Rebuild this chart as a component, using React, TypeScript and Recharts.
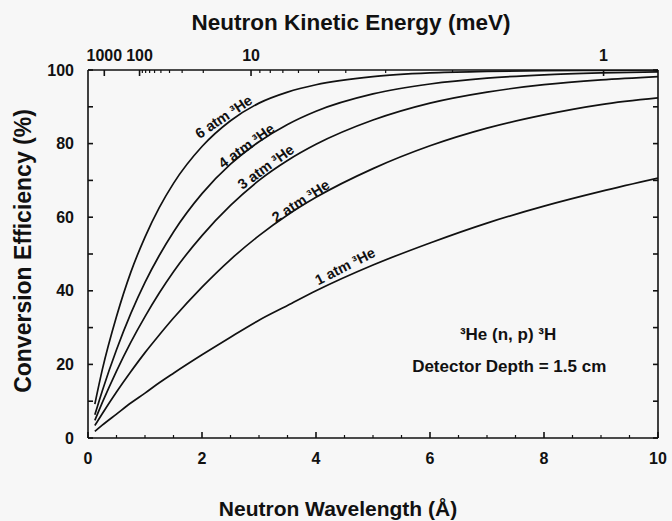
import { LineChart, Line, XAxis, YAxis, ReferenceDot } from 'recharts';

const FONT = '"Liberation Sans", Arial, Helvetica, sans-serif';
const INK = '#111111';

// neutron wavelength (Å)
const wavelength = [0.12, 0.25, 0.5, 0.75, 1, 1.25, 1.5, 2, 2.5, 3, 3.5, 4, 5, 6, 7, 8, 9, 10];

// conversion efficiency (%)
const eff6atm = [9.2, 18.5, 33, 45, 54.6, 62.6, 69.2, 79.2, 86.2, 91, 94, 96, 98.2, 99.2, 99.6, 99.8, 99.9, 100];
const eff4atm = [6.3, 12.8, 24, 33.8, 42.3, 49.6, 56, 66.4, 74.4, 80.5, 85.2, 88.8, 93.5, 96.2, 97.8, 98.7, 99.2, 99.5];
const eff3atm = [4.8, 9.6, 18.2, 26, 33, 39.4, 45.2, 55, 63.2, 70, 75.4, 79.8, 86.4, 91, 94, 96, 97.3, 98.2];
const eff2atm = [3.4, 6.6, 12.5, 18, 23.2, 28, 32.6, 41, 48.5, 55, 60.6, 65.4, 73.2, 79.4, 84.2, 87.8, 90.6, 92.4];
const eff1atm = [1.8, 3.5, 6.5, 9.5, 12.2, 15, 17.6, 22.6, 27.4, 32, 36, 40, 47, 53, 58.4, 63, 67, 70.6];

const wavelengthTicks = [0, 2, 4, 6, 8, 10];
const wavelengthMinor = [0.5, 1, 1.5, 2.5, 3, 3.5, 4.5, 5, 5.5, 6.5, 7, 7.5, 8.5, 9, 9.5];
const efficiencyTicks = [0, 10, 20, 30, 40, 50, 60, 70, 80, 90, 100];
const energyTicks = [1000, 100, 10, 1];
const energyMinor = [90, 80, 70, 60, 50, 40, 30, 20, 9, 8, 7, 6, 5, 4, 3, 2];

const curveLabels = [
  { text: '6 atm ³He', x: 2.38, y: 87.3, angle: -34 },
  { text: '4 atm ³He', x: 2.78, y: 79.4, angle: -36 },
  { text: '3 atm ³He', x: 3.12, y: 73.7, angle: -36 },
  { text: '2 atm ³He', x: 3.73, y: 64.4, angle: -33 },
  { text: '1 atm ³He', x: 4.51, y: 46.7, angle: -27 },
];

const notes = [
  { text: '³He (n, p) ³H', x: 7.37, y: 28.1 },
  { text: 'Detector Depth = 1.5 cm', x: 7.39, y: 19.4 },
];

// E (meV) = 81.81 / λ²
const toWavelength = (e: number) => Math.sqrt(81.81 / e);

const data = wavelength.map((w, i) => ({
  w,
  p6: eff6atm[i],
  p4: eff4atm[i],
  p3: eff3atm[i],
  p2: eff2atm[i],
  p1: eff1atm[i],
}));

const tickStyle = { fill: INK, fontSize: 16, fontWeight: 700, fontFamily: FONT };
const axisStroke = { stroke: INK, strokeWidth: 1.6 };

function vbOf(props: any) {
  const vb = props.viewBox ?? props;
  return { x: vb.x ?? 0, y: vb.y ?? 0, width: vb.width ?? 0, height: vb.height ?? 0 };
}

export default function App() {
  return (
    <div style={{ position: 'absolute', left: 0, top: 0, width: 672, height: 521, background: '#f7f7f7' }}>
      <LineChart width={672} height={521} data={data} margin={{ top: 0, right: 14, bottom: 0, left: 0 }}>
        {/* bottom: wavelength */}
        <XAxis
          xAxisId="b"
          dataKey="w"
          type="number"
          domain={[0, 10]}
          allowDataOverflow
          ticks={wavelengthTicks}
          interval={0}
          height={83}
          tickSize={-6}
          tickMargin={21}
          tick={tickStyle}
          axisLine={axisStroke}
          tickLine={axisStroke}
          label={(props: any) => {
            const vb = vbOf(props);
            return (
              <text x={vb.x + 250} y={vb.y + 78} textAnchor="middle" fill={INK}
                style={{ fontSize: 21, fontWeight: 700, fontFamily: FONT }}>
                Neutron Wavelength (Å)
              </text>
            );
          }}
        />
        <XAxis
          xAxisId="bm"
          dataKey="w"
          type="number"
          domain={[0, 10]}
          allowDataOverflow
          mirror
          ticks={wavelengthMinor}
          interval={0}
          height={10}
          tickSize={3}
          tickFormatter={() => ''}
          axisLine={false}
          tickLine={{ stroke: INK, strokeWidth: 1.2 }}
        />
        {/* top: kinetic energy */}
        <XAxis
          xAxisId="t"
          dataKey="w"
          orientation="top"
          type="number"
          domain={[0, 10]}
          allowDataOverflow
          ticks={energyTicks.map(toWavelength)}
          tickFormatter={(v: number) => String(Math.round(81.81 / (v * v)))}
          interval={0}
          height={70}
          tickSize={-6}
          tickMargin={15.5}
          tick={tickStyle}
          axisLine={axisStroke}
          tickLine={axisStroke}
          label={(props: any) => {
            const vb = vbOf(props);
            return (
              <text x={vb.x + 263} y={vb.y + 30} textAnchor="middle" fill={INK}
                style={{ fontSize: 22.5, fontWeight: 700, fontFamily: FONT }}>
                Neutron Kinetic Energy (meV)
              </text>
            );
          }}
        />
        <XAxis
          xAxisId="tm"
          dataKey="w"
          orientation="top"
          type="number"
          domain={[0, 10]}
          allowDataOverflow
          mirror
          ticks={energyMinor.map(toWavelength)}
          interval={0}
          height={10}
          tickSize={3}
          tickFormatter={() => ''}
          axisLine={false}
          tickLine={{ stroke: INK, strokeWidth: 1.2 }}
        />
        {/* left: efficiency */}
        <YAxis
          yAxisId="l"
          type="number"
          domain={[0, 100]}
          allowDataOverflow
          ticks={efficiencyTicks}
          interval={0}
          width={88}
          tickSize={-5}
          tickMargin={19}
          tickFormatter={(v: number) => (v % 20 === 0 ? String(v) : '')}
          tick={tickStyle}
          axisLine={axisStroke}
          tickLine={axisStroke}
          label={(props: any) => {
            const vb = vbOf(props);
            const cx = vb.x + 31;
            const cy = vb.y + 181;
            return (
              <text x={cx} y={cy} transform={`rotate(-90 ${cx} ${cy})`} textAnchor="middle" fill={INK}
                style={{ fontSize: 23, fontWeight: 700, fontFamily: FONT }}>
                Conversion Efficiency (%)
              </text>
            );
          }}
        />
        <YAxis
          yAxisId="r"
          orientation="right"
          type="number"
          domain={[0, 100]}
          allowDataOverflow
          mirror
          ticks={efficiencyTicks}
          interval={0}
          width={10}
          tickSize={5}
          tickFormatter={() => ''}
          axisLine={axisStroke}
          tickLine={axisStroke}
        />

        <Line xAxisId="b" yAxisId="l" type="monotone" dataKey="p6" stroke={INK} strokeWidth={1.7} dot={false} isAnimationActive={false} />
        <Line xAxisId="b" yAxisId="l" type="monotone" dataKey="p4" stroke={INK} strokeWidth={1.7} dot={false} isAnimationActive={false} />
        <Line xAxisId="b" yAxisId="l" type="monotone" dataKey="p3" stroke={INK} strokeWidth={1.7} dot={false} isAnimationActive={false} />
        <Line xAxisId="b" yAxisId="l" type="monotone" dataKey="p2" stroke={INK} strokeWidth={1.7} dot={false} isAnimationActive={false} />
        <Line xAxisId="b" yAxisId="l" type="monotone" dataKey="p1" stroke={INK} strokeWidth={1.7} dot={false} isAnimationActive={false} />

        {curveLabels.map((c) => (
          <ReferenceDot
            key={c.text}
            xAxisId="b"
            yAxisId="l"
            x={c.x}
            y={c.y}
            r={0}
            stroke="none"
            fill="none"
            label={(props: any) => {
              const vb = vbOf(props);
              return (
                <text x={vb.x} y={vb.y} transform={`rotate(${c.angle} ${vb.x} ${vb.y})`} textAnchor="middle"
                  dominantBaseline="central" fill={INK}
                  style={{ fontSize: 14.5, fontWeight: 700, fontFamily: FONT }}>
                  {c.text}
                </text>
              );
            }}
          />
        ))}

        {notes.map((n) => (
          <ReferenceDot
            key={n.text}
            xAxisId="b"
            yAxisId="l"
            x={n.x}
            y={n.y}
            r={0}
            stroke="none"
            fill="none"
            label={(props: any) => {
              const vb = vbOf(props);
              return (
                <text x={vb.x} y={vb.y} textAnchor="middle" dominantBaseline="central" fill={INK}
                  style={{ fontSize: 17, fontWeight: 700, fontFamily: FONT }}>
                  {n.text}
                </text>
              );
            }}
          />
        ))}
      </LineChart>
    </div>
  );
}
